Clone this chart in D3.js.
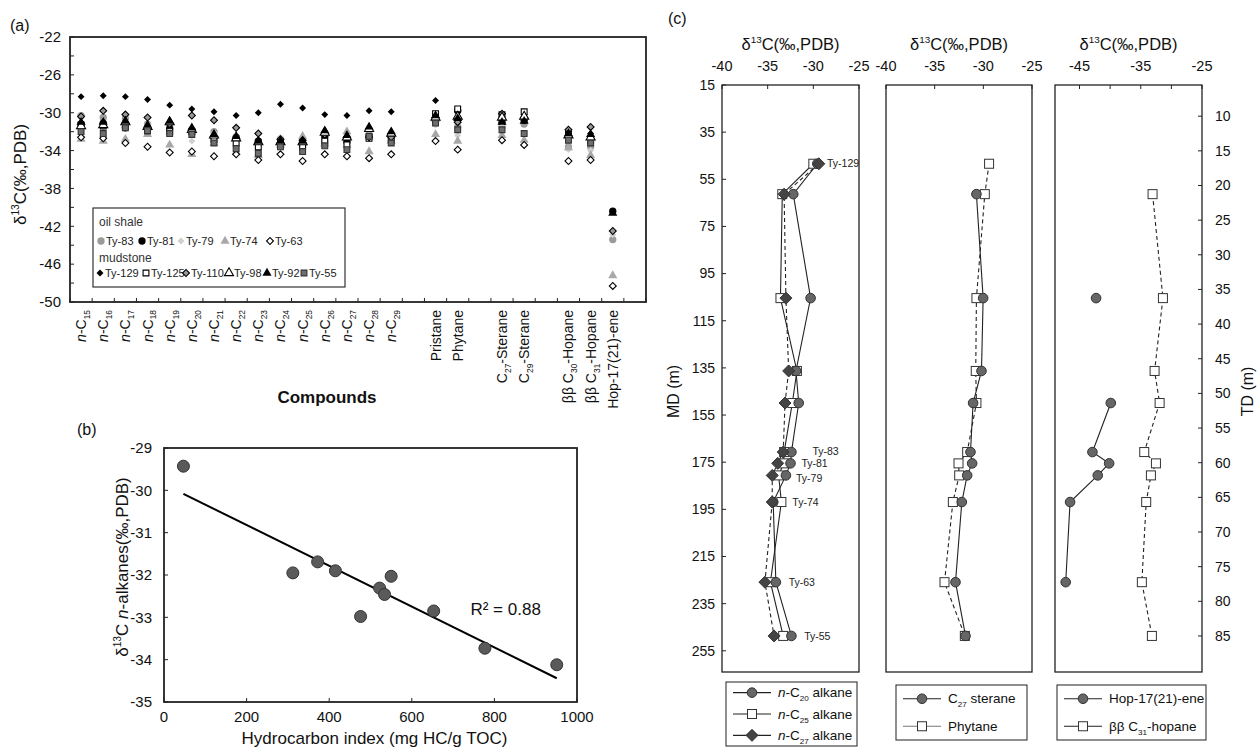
<!DOCTYPE html>
<meta charset="utf-8">
<html lang="en">
<head>
<style>
  body { margin: 0; background-color: #fff; }
  svg { font-family: "Liberation Sans", Arial, Helvetica, sans-serif; fill: #111; }
  .frame { fill: none; stroke: #222; }
  .tick { stroke: #222; stroke-width: 1px; }
</style>
</head>
<body>
<svg id="chart" width="1258" height="748"></svg>
<script src="https://cdn.jsdelivr.net/npm/d3@7"></script>
<script>

// ---------- panel (a): compound specific d13C ----------
var slots = ["n-C15","n-C16","n-C17","n-C18","n-C19","n-C20","n-C21","n-C22","n-C23","n-C24",
  "n-C25","n-C26","n-C27","n-C28","n-C29","gap1","Pristane","Phytane","gap2",
  "C27-Sterane","C29-Sterane","gap3","bbC30","bbC31","Hop","gap4"];
var compounds = ["n-C15","n-C16","n-C17","n-C18","n-C19","n-C20","n-C21","n-C22","n-C23","n-C24",
  "n-C25","n-C26","n-C27","n-C28","n-C29","Pristane","Phytane","C27-Sterane","C29-Sterane",
  "bbC30","bbC31","Hop"];
var compoundLabels = ["*n*-C_{15}","*n*-C_{16}","*n*-C_{17}","*n*-C_{18}","*n*-C_{19}","*n*-C_{20}",
  "*n*-C_{21}","*n*-C_{22}","*n*-C_{23}","*n*-C_{24}","*n*-C_{25}","*n*-C_{26}","*n*-C_{27}",
  "*n*-C_{28}","*n*-C_{29}","Pristane","Phytane","C_{27}-Sterane","C_{29}-Sterane",
  "ββ C_{30}-Hopane","ββ C_{31}-Hopane","Hop-17(21)-ene"];

// oil shale
var ty83  = [-30.3,-30.5,-30.6,-31.2,-31.5,-31.8,-32.0,-32.6,-33.0,-32.8,-33.0,-33.0,-32.9,-32.3,-32.5,-30.9,-31.5,-31.5,-31.2,-33.6,-33.6,-43.4];
var ty81  = [-31.2,-31.1,-31.6,-31.8,-31.7,-32.0,-32.6,-32.6,-33.0,-33.3,-33.4,-32.5,-33.1,-32.5,-32.4,-30.9,-29.8,-31.0,-30.8,-32.5,-32.8,-40.4];
var ty79  = [-31.5,-31.5,-31.2,-31.2,-32.0,-33.0,-32.1,-32.5,-33.3,-32.6,-33.3,-33.2,-33.5,-32.4,-32.8,-31.3,-32.4,-31.4,-32.3,-33.9,-34.0,-42.9];
var ty74  = [-32.8,-33.0,-32.8,-32.3,-33.4,-34.4,-33.2,-34.2,-34.5,-33.4,-32.5,-33.3,-32.0,-34.1,-33.0,-32.3,-33.0,-32.4,-32.9,-33.7,-34.5,-47.2];
var ty63  = [-32.6,-32.7,-33.2,-33.6,-34.2,-34.1,-34.6,-34.4,-35.0,-34.4,-35.1,-34.4,-34.6,-34.8,-34.4,-33.0,-33.9,-32.9,-33.4,-35.1,-35.0,-48.3];
// mudstone
var ty129 = [-28.3,-28.2,-28.3,-28.6,-29.2,-29.6,-29.9,-30.3,-30.0,-29.1,-29.5,-30.2,-30.3,-29.8,-29.9,-28.7,-29.8,-30.4,-30.2,-32.0,-32.2,null];
var ty125 = [-31.3,-31.4,-31.3,-31.9,-32.0,-32.0,-32.8,-33.2,-33.6,-33.2,-33.6,-33.0,-33.4,-32.7,-32.8,-30.1,-29.6,-30.2,-29.9,-32.3,-33.0,null];
var ty110 = [-30.4,-29.8,-30.2,-30.5,-31.2,-30.3,-30.8,-31.6,-32.2,-32.8,-32.9,-32.3,-32.6,-32.6,-32.6,-30.5,-31.0,-30.1,-30.5,-31.8,-31.5,-42.5];
var ty98  = [-31.4,-31.3,-31.0,-31.5,-31.0,-31.8,-32.4,-32.7,-33.1,-33.1,-33.1,-32.1,-32.6,-31.7,-32.2,-30.5,-30.4,-30.5,-30.4,-32.4,-32.6,null];
var ty92  = [-31.0,-31.0,-30.9,-31.3,-30.9,-31.6,-32.3,-32.5,-33.0,-33.0,-33.0,-31.9,-32.4,-31.5,-32.0,-30.3,-30.6,-31.0,-30.9,-32.2,-32.3,-40.6];
var ty55  = [-32.0,-32.2,-31.6,-31.9,-32.2,-32.3,-33.2,-33.8,-34.3,-33.6,-34.1,-33.5,-33.9,-32.5,-33.2,-31.1,-31.8,-31.8,-32.2,-32.9,-33.2,null];

var oilShale = ["Ty-83","Ty-81","Ty-79","Ty-74","Ty-63"];
var mudstone = ["Ty-129","Ty-125","Ty-110","Ty-98","Ty-92","Ty-55"];
var seriesA = {"Ty-83":ty83,"Ty-81":ty81,"Ty-79":ty79,"Ty-74":ty74,"Ty-63":ty63,
  "Ty-129":ty129,"Ty-125":ty125,"Ty-110":ty110,"Ty-98":ty98,"Ty-92":ty92,"Ty-55":ty55};

// ---------- panel (b): HI vs mean n-alkane d13C ----------
var hcIndex    = [47, 312, 372, 415, 476, 522, 534, 550, 653, 777, 951];
var alkaneMean = [-29.43,-31.95,-31.69,-31.90,-32.98,-32.31,-32.46,-32.03,-32.85,-33.73,-34.12];

// ---------- panel (c): profiles with depth ----------
var samples  = ["Ty-129","Ty-125","Ty-110","Ty-98","Ty-92","Ty-83","Ty-81","Ty-79","Ty-74","Ty-63","Ty-55"];
var mdDepth  = [48.4, 61.3, 105.4, 136.3, 149.9, 170.7, 175.5, 180.6, 191.9, 225.9, 248.7];
var nC20     = [-29.56,-32.2,-30.3,-31.9,-31.6,-32.4,-32.5,-33.0,-34.4,-34.1,-32.4];
var nC25     = [-30.0,-33.4,-33.6,-31.8,-32.3,-33.2,-33.25,-33.8,-33.5,-34.7,-33.3];
var nC27     = [-29.4,-33.2,-33.0,-32.7,-33.1,-33.3,-33.9,-34.5,-34.5,-35.3,-34.3];
var c27Sterane = [null,-30.71,-30.02,-30.19,-31.05,-31.32,-31.15,-31.66,-32.21,-32.86,-31.83];
var phytane    = [-29.41,-29.85,-30.71,-30.78,-30.71,-31.66,-32.55,-32.48,-33.13,-33.99,-31.90];
var hopene     = [null,null,-42.29,null,-39.89,-42.89,-40.16,-42.02,-46.54,-47.25,null];
var c31Hopane  = [null,-33.07,-31.38,-32.74,-31.92,-34.43,-32.52,-33.34,-34.11,-34.82,-33.18];
var mdTicks = [15,35,55,75,95,115,135,155,175,195,215,235,255];
var tdTicks = [10,15,20,25,30,35,40,45,50,55,60,65,70,75,80,85];
var annotNames = ["Ty-129","Ty-83","Ty-81","Ty-79","Ty-74","Ty-63","Ty-55"];
var annotX  = [-28.5,-30.1,-31.3,-31.9,-32.3,-32.7,-31.0];
var annotMD = [48.4, 170.2, 175.5, 181.8, 191.9, 225.9, 248.7];

// ---------- helpers ----------
var svg = d3.select("#chart");

function rich(sel, str, fs) {
  var parts = str.split(/(\*[^*]+\*|_\{[^}]+\}|\^\{[^}]+\})/).filter(function(s) { return s.length; });
  var shift = 0;
  parts.forEach(function(p) {
    var t = sel.append("tspan"), want = 0, txt = p, size = null;
    if (p[0] === "*") { txt = p.slice(1, -1); t.attr("font-style", "italic"); }
    else if (p[0] === "_") { txt = p.slice(2, -1); want = 0.28 * fs; size = 0.6 * fs; }
    else if (p[0] === "^") { txt = p.slice(2, -1); want = -0.4 * fs; size = 0.6 * fs; }
    if (want !== shift) { t.attr("dy", want - shift); shift = want; }
    if (size) t.attr("font-size", size);
    t.text(txt);
  });
  return sel;
}

var symPath = {
  circle:   d3.symbol().type(d3.symbolCircle).size(42)(),
  square:   d3.symbol().type(d3.symbolSquare).size(34)(),
  diamond:  d3.symbol().type(d3.symbolSquare).size(24)(),
  triangle: d3.symbol().type(d3.symbolTriangle).size(36)()
};
var sampleStyle = {
  "Ty-83":  {shape: "circle",   fill: "#9a9a9a", stroke: "none"},
  "Ty-81":  {shape: "circle",   fill: "#000",    stroke: "none"},
  "Ty-79":  {shape: "diamond",  fill: "#cfcfcf", stroke: "none"},
  "Ty-74":  {shape: "triangle", fill: "#a8a8a8", stroke: "none"},
  "Ty-63":  {shape: "diamond",  fill: "#fff",    stroke: "#000"},
  "Ty-129": {shape: "diamond",  fill: "#000",    stroke: "none"},
  "Ty-125": {shape: "square",   fill: "#fff",    stroke: "#000"},
  "Ty-110": {shape: "diamond",  fill: "#999",    stroke: "#000"},
  "Ty-98":  {shape: "triangle", fill: "#fff",    stroke: "#000"},
  "Ty-92":  {shape: "triangle", fill: "#000",    stroke: "none"},
  "Ty-55":  {shape: "square",   fill: "#6e6e6e", stroke: "#333"}
};
function marker(g, name, x, y) {
  var s = sampleStyle[name];
  g.append("path")
    .attr("d", symPath[s.shape])
    .attr("transform", "translate(" + x + "," + y + ")" + (s.shape === "diamond" ? " rotate(45)" : ""))
    .attr("fill", s.fill)
    .attr("stroke", s.stroke)
    .attr("stroke-width", 1.1);
}

// ================= PANEL A =================
var A = {left: 70, right: 646, top: 37, bottom: 302};
var xA = d3.scaleBand().domain(slots).range([A.left, A.right]);
var yA = d3.scaleLinear().domain([-22, -50]).range([A.top, A.bottom]);
var gA = svg.append("g");

gA.append("text").attr("x", 10).attr("y", 31).attr("font-size", 16).text("(a)");

d3.range(-22, -50.1, -2).forEach(function(v) {
  gA.append("line").attr("class", "tick")
    .attr("x1", A.left).attr("x2", A.left + 4).attr("y1", yA(v)).attr("y2", yA(v));
  if ((v + 22) % 4 === 0) {
    gA.append("text").attr("x", A.left - 9).attr("y", yA(v)).attr("dy", "0.35em")
      .attr("text-anchor", "end").attr("font-size", 15).text(v);
  }
});
slots.concat(["end"]).forEach(function(s, i) {
  var x = A.left + i * xA.bandwidth();
  gA.append("line").attr("class", "tick")
    .attr("x1", x).attr("x2", x).attr("y1", A.bottom).attr("y2", A.bottom - 4);
});
gA.append("rect").attr("class", "frame").attr("stroke-width", 1.8)
  .attr("x", A.left).attr("y", A.top).attr("width", A.right - A.left).attr("height", A.bottom - A.top);

var ytA = gA.append("text").attr("font-size", 17).attr("text-anchor", "middle")
  .attr("transform", "translate(26," + ((A.top + A.bottom) / 2 + 5) + ") rotate(-90)");
rich(ytA, "δ^{13}C(‰,PDB)", 17);

compounds.forEach(function(c, i) {
  var x = xA(c) + xA.bandwidth() / 2 + 5, y = A.bottom + 8;
  var t = gA.append("text").attr("font-size", 14).attr("text-anchor", "end")
    .attr("transform", "translate(" + x + "," + y + ") rotate(-90)");
  rich(t, compoundLabels[i], 14);
});
gA.append("text").attr("x", 327).attr("y", 403).attr("text-anchor", "middle")
  .attr("font-size", 17).attr("font-weight", "bold").text("Compounds");

var pts = gA.append("g");
oilShale.concat(mudstone).forEach(function(name) {
  seriesA[name].forEach(function(v, i) {
    if (v === null) return;
    marker(pts, name, xA(compounds[i]) + xA.bandwidth() / 2, yA(v));
  });
});

// legend (a)
var lg = gA.append("g");
lg.append("rect").attr("x", 93).attr("y", 208).attr("width", 252).attr("height", 79)
  .attr("fill", "#fff").attr("stroke", "#333").attr("stroke-width", 1.2);
lg.append("text").attr("x", 99).attr("y", 226).attr("font-size", 12).attr("fill", "#333").text("oil shale");
lg.append("text").attr("x", 99).attr("y", 262).attr("font-size", 12).attr("fill", "#333").text("mudstone");
var row1x = [101, 142, 181, 225, 270], row2x = [100, 146, 186, 229, 267, 304];
oilShale.forEach(function(n, i) {
  marker(lg, n, row1x[i], 241);
  lg.append("text").attr("x", row1x[i] + 5).attr("y", 241).attr("dy", "0.35em")
    .attr("font-size", 11).attr("fill", "#222").text(n);
});
mudstone.forEach(function(n, i) {
  marker(lg, n, row2x[i], 273);
  lg.append("text").attr("x", row2x[i] + 5).attr("y", 273).attr("dy", "0.35em")
    .attr("font-size", 11).attr("fill", "#222").text(n);
});

// ================= PANEL B =================
var B = {left: 164, right: 577, top: 448, bottom: 702};
var xB = d3.scaleLinear().domain([0, 1000]).range([B.left, B.right]);
var yB = d3.scaleLinear().domain([-29, -35]).range([B.top, B.bottom]);
var gB = svg.append("g");

gB.append("text").attr("x", 77).attr("y", 435).attr("font-size", 16).text("(b)");
d3.range(-29, -35.1, -1).forEach(function(v) {
  gB.append("line").attr("class", "tick").attr("x1", B.left).attr("x2", B.left + 4)
    .attr("y1", yB(v)).attr("y2", yB(v));
  gB.append("text").attr("x", B.left - 12).attr("y", yB(v)).attr("dy", "0.35em")
    .attr("text-anchor", "end").attr("font-size", 15).text(v);
});
d3.range(0, 1001, 200).forEach(function(v) {
  gB.append("line").attr("class", "tick").attr("x1", xB(v)).attr("x2", xB(v))
    .attr("y1", B.bottom).attr("y2", B.bottom - 4);
  gB.append("text").attr("x", xB(v)).attr("y", B.bottom + 20).attr("text-anchor", "middle")
    .attr("font-size", 15).text(v);
});
gB.append("rect").attr("class", "frame").attr("stroke-width", 1.8)
  .attr("x", B.left).attr("y", B.top).attr("width", B.right - B.left).attr("height", B.bottom - B.top);
gB.append("text").attr("x", (B.left + B.right) / 2 + 4).attr("y", 744).attr("text-anchor", "middle")
  .attr("font-size", 17).text("Hydrocarbon index (mg HC/g TOC)");
var ytB = gB.append("text").attr("font-size", 17).attr("text-anchor", "middle")
  .attr("transform", "translate(128,567) rotate(-90)");
rich(ytB, "δ^{13}C *n*-alkanes(‰,PDB)", 17);

// least-squares trend line
var mx = d3.mean(hcIndex), my = d3.mean(alkaneMean);
var sxy = d3.sum(hcIndex, function(x, i) { return (x - mx) * (alkaneMean[i] - my); });
var sxx = d3.sum(hcIndex, function(x) { return (x - mx) * (x - mx); });
var slope = sxy / sxx, icpt = my - slope * mx;
var xr = d3.extent(hcIndex);
gB.append("line").attr("stroke", "#000").attr("stroke-width", 2)
  .attr("x1", xB(xr[0])).attr("y1", yB(icpt + slope * xr[0]))
  .attr("x2", xB(xr[1])).attr("y2", yB(icpt + slope * xr[1]));
gB.selectAll(".pt").data(hcIndex).enter().append("circle")
  .attr("cx", function(d) { return xB(d); })
  .attr("cy", function(d, i) { return yB(alkaneMean[i]); })
  .attr("r", 6).attr("fill", "#5a5a5a").attr("stroke", "#333").attr("stroke-width", 1);
gB.append("text").attr("x", xB(742)).attr("y", yB(-32.95)).attr("font-size", 17).text("R² = 0.88");

// ================= PANEL C =================
var C = {top: 85, bottom: 672, lefts: [722, 886, 1055], widths: [137, 146, 147]};
var yC = d3.scaleLinear().domain([15, 264]).range([C.top, C.bottom]);
var tdScale = d3.scaleLinear().domain([5.5, 90.2]).range([C.top, C.bottom]);
var domains = [[-40, -25], [-40, -25], [-49, -25]];
var tickSets = [[-40, -35, -30, -25], [-40, -35, -30, -25], [-45, -40, -35, -30, -25]];
var labelSets = [[-40, -35, -30, -25], [-40, -35, -30, -25], [-45, -35, -25]];
var gC = svg.append("g");
gC.append("text").attr("x", 668).attr("y", 24).attr("font-size", 16).text("(c)");

var xCs = C.lefts.map(function(l, k) {
  return d3.scaleLinear().domain(domains[k]).range([l, l + C.widths[k]]);
});
xCs.forEach(function(xs, k) {
  var l = C.lefts[k], w = C.widths[k];
  tickSets[k].forEach(function(v) {
    gC.append("line").attr("class", "tick").attr("x1", xs(v)).attr("x2", xs(v))
      .attr("y1", C.top).attr("y2", C.top + 4);
  });
  labelSets[k].forEach(function(v) {
    gC.append("text").attr("x", xs(v)).attr("y", 71).attr("text-anchor", "middle")
      .attr("font-size", 14.5).text(v);
  });
  var tt = gC.append("text").attr("x", l + w / 2).attr("y", 50).attr("text-anchor", "middle")
    .attr("font-size", 16.5);
  rich(tt, "δ^{13}C(‰,PDB)", 16.5);
  gC.append("rect").attr("class", "frame").attr("stroke-width", 1.3)
    .attr("x", l).attr("y", C.top).attr("width", w).attr("height", C.bottom - C.top);
});
mdTicks.forEach(function(v) {
  gC.append("line").attr("class", "tick").attr("x1", C.lefts[0]).attr("x2", C.lefts[0] + 4)
    .attr("y1", yC(v)).attr("y2", yC(v));
  gC.append("text").attr("x", C.lefts[0] - 7).attr("y", yC(v)).attr("dy", "0.35em")
    .attr("text-anchor", "end").attr("font-size", 14).text(v);
});
var rightEdge = C.lefts[2] + C.widths[2];
tdTicks.forEach(function(v) {
  gC.append("line").attr("class", "tick").attr("x1", rightEdge - 4).attr("x2", rightEdge)
    .attr("y1", tdScale(v)).attr("y2", tdScale(v));
  gC.append("text").attr("x", rightEdge + 13).attr("y", tdScale(v)).attr("dy", "0.35em")
    .attr("font-size", 14).text(v);
});
gC.append("text").attr("font-size", 16).attr("text-anchor", "middle")
  .attr("transform", "translate(679," + yC(145) + ") rotate(-90)").text("MD (m)");
gC.append("text").attr("font-size", 16).attr("text-anchor", "middle")
  .attr("transform", "translate(1253," + yC(145) + ") rotate(-90)").text("TD (m)");

var shapes = {
  circle:  function(g, x, y) { g.append("circle").attr("cx", x).attr("cy", y).attr("r", 4.8)
             .attr("fill", "#666").attr("stroke", "#333").attr("stroke-width", 1); },
  square:  function(g, x, y) { g.append("rect").attr("x", x - 4.5).attr("y", y - 4.5).attr("width", 9).attr("height", 9)
             .attr("fill", "#fff").attr("stroke", "#333").attr("stroke-width", 1); },
  diamond: function(g, x, y) { g.append("path").attr("d", "M0,-6L6,0L0,6L-6,0Z")
             .attr("transform", "translate(" + x + "," + y + ")").attr("fill", "#444").attr("stroke", "#333"); }
};

function profile(k, values, shape, dashed) {
  var xs = xCs[k];
  var pts = values.map(function(v, i) { return {v: v, md: mdDepth[i]}; });
  var line = d3.line().defined(function(d) { return d.v !== null; })
    .x(function(d) { return xs(d.v); }).y(function(d) { return yC(d.md); });
  gC.append("path").datum(pts).attr("d", line).attr("fill", "none")
    .attr("stroke", "#222").attr("stroke-width", 1.1)
    .attr("stroke-dasharray", dashed ? "4,3" : null);
  return function() {
    var g = gC.append("g");
    pts.forEach(function(d) { if (d.v !== null) shapes[shape](g, xs(d.v), yC(d.md)); });
  };
}
var m1 = profile(0, nC25, "square", false);
var m2 = profile(0, nC20, "circle", false);
var m3 = profile(0, nC27, "diamond", true);
m1(); m2(); m3();
var m4 = profile(1, phytane, "square", true);
var m5 = profile(1, c27Sterane, "circle", false);
m4(); m5();
var m6 = profile(2, c31Hopane, "square", true);
var m7 = profile(2, hopene, "circle", false);
m6(); m7();

annotNames.forEach(function(n, i) {
  gC.append("text").attr("x", xCs[0](annotX[i])).attr("y", yC(annotMD[i])).attr("dy", "0.35em")
    .attr("font-size", 10.5).attr("fill", "#222").text(n);
});

// legends (c)
function legendBox(x, y, w, h, items) {
  var g = gC.append("g");
  g.append("rect").attr("x", x).attr("y", y).attr("width", w).attr("height", h)
    .attr("fill", "#fff").attr("stroke", "#333").attr("stroke-width", 1.1);
  var step = h / items.length;
  items.forEach(function(it, i) {
    var cy = y + step * (i + 0.5);
    g.append("line").attr("x1", x + 7).attr("x2", x + 45).attr("y1", cy).attr("y2", cy)
      .attr("stroke", it.gray ? "#777" : "#222").attr("stroke-width", 1.1);
    shapes[it.shape](g, x + 26, cy);
    var t = g.append("text").attr("x", x + 52).attr("y", cy).attr("dy", "0.35em").attr("font-size", 13.5);
    rich(t, it.label, 13.5);
  });
}
legendBox(726, 682, 131, 64, [
  {shape: "circle", label: "*n*-C_{20} alkane"},
  {shape: "square", label: "*n*-C_{25} alkane"},
  {shape: "diamond", label: "*n*-C_{27} alkane"}]);
legendBox(896, 685, 131, 55, [
  {shape: "circle", label: "C_{27} sterane"},
  {shape: "square", label: "Phytane", gray: true}]);
legendBox(1057, 685, 149, 55, [
  {shape: "circle", label: "Hop-17(21)-ene"},
  {shape: "square", label: "ββ C_{31}-hopane"}]);

</script>
</body>
</html>
